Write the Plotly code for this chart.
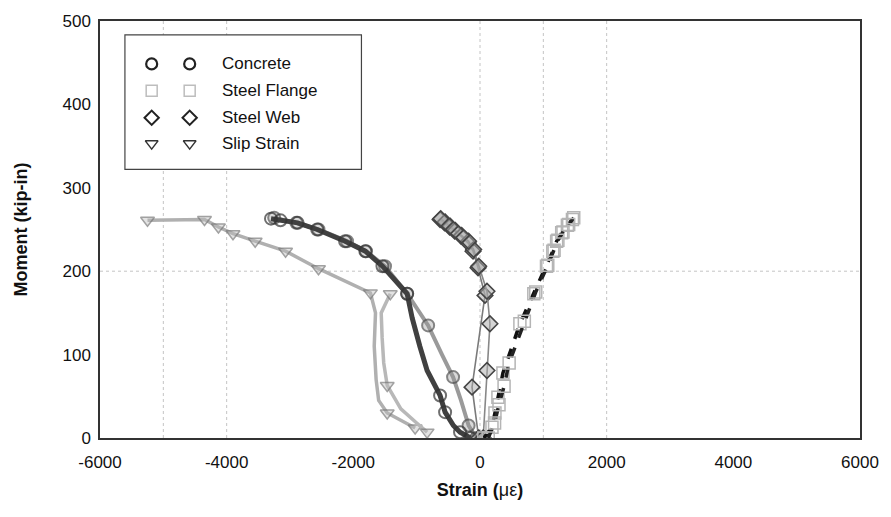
import plotly.graph_objects as go

# Moment vs. strain readings (strain in micro-strain, moment in kip-in)
concrete_a_x = [-3300, -3150, -2880, -2570, -2130, -1810, -1540, -1150, -1071, -950, -835, -630, -551, -420, -315, -150]
concrete_a_y = [263, 261, 258, 250, 236, 224, 206, 173, 144, 110, 81, 51, 31, 15, 7, 0]
concrete_a_mark = [1, 1, 1, 1, 1, 1, 1, 1, 0, 0, 0, 1, 1, 0, 1, 1]
concrete_b_x = [-3250, -2900, -2550, -2100, -1800, -1500, -1150, -819, -600, -425, -300, -180, -60]
concrete_b_y = [264, 258, 250, 236, 224, 206, 173, 135, 100, 73, 45, 15, 0]
concrete_b_mark = [1, 1, 1, 1, 1, 1, 1, 1, 0, 1, 0, 1, 1]

flange_a_x = [60, 189, 236, 283, 362, 630, 850, 1050, 1150, 1210, 1290, 1380, 1460]
flange_a_y = [0, 13, 30, 49, 78, 137, 173, 206, 224, 236, 246, 255, 262]
flange_b_x = [130, 230, 300, 380, 460, 700, 880, 1070, 1170, 1230, 1310, 1400, 1480]
flange_b_y = [0, 18, 40, 62, 90, 140, 175, 207, 225, 237, 247, 256, 264]

web_a_x = [-20, -126, 79, -31, -110, -189, -300, -400, -480, -560, -630]
web_a_y = [0, 61, 171, 204, 224, 234, 242, 248, 253, 258, 262]
web_b_x = [50, 110, 157, 110, -20, -100, -180, -290, -390, -470, -550, -620]
web_b_y = [0, 81, 137, 176, 206, 226, 236, 243, 249, 254, 259, 263]

slip_a_x = [-5250, -4350, -4130, -3900, -3550, -3070, -2550, -1730, -1650, -1670, -1640, -1600, -1465, -1024]
slip_a_y = [261, 262, 253, 245, 236, 224, 203, 174, 150, 110, 70, 45, 30, 12]
slip_a_mark = [1, 1, 1, 1, 1, 1, 1, 1, 0, 0, 0, 0, 1, 1]
slip_b_x = [-1417, -1560, -1545, -1520, -1465, -1250, -1000, -835]
slip_b_y = [173, 150, 120, 90, 63, 35, 18, 7]
slip_b_mark = [1, 0, 0, 0, 1, 0, 0, 1]

x_ticks = [-6000, -4000, -2000, 0, 2000, 4000, 6000]
y_ticks = [0, 100, 200, 300, 400, 500]
grid_x = [-5000, -4000, 0, 1000, 2000]
grid_y = [200]

legend_names = ["Concrete", "Steel Flange", "Steel Web", "Slip Strain"]

FONT = "Liberation Sans, Arial, sans-serif"
MSIZE = 12

fig = go.Figure()

def add_series(x, y, line_color, line_width, dash, symbol, mline, mwidth, fill, marked=None):
    sizes = MSIZE if marked is None else [MSIZE if m else 0 for m in marked]
    fig.add_trace(go.Scatter(
        x=x, y=y, mode="lines+markers", showlegend=False,
        line=dict(color=line_color, width=line_width, dash=dash),
        marker=dict(symbol=symbol, size=sizes, color=fill,
                    line=dict(color=mline, width=mwidth)),
    ))

# Slip strain gauges
add_series(slip_a_x, slip_a_y, "#b0b0b0", 3.5, "solid", "triangle-down", "#7a7a7a", 1.5, "rgba(190,190,190,0.6)", slip_a_mark)
add_series(slip_b_x, slip_b_y, "#b8b8b8", 3.5, "solid", "triangle-down", "#7a7a7a", 1.5, "rgba(190,190,190,0.6)", slip_b_mark)
# Concrete gauges
add_series(concrete_b_x, concrete_b_y, "#9a9a9a", 4, "solid", "circle", "#505050", 2, "rgba(150,150,150,0.5)", concrete_b_mark)
add_series(concrete_a_x, concrete_a_y, "#404040", 5, "solid", "circle", "#333333", 2, "rgba(0,0,0,0)", concrete_a_mark)
# Steel web gauges
add_series(web_a_x, web_a_y, "#7a7a7a", 1.6, "solid", "diamond", "#444444", 1.6, "rgba(170,170,170,0.5)")
add_series(web_b_x, web_b_y, "#888888", 1.6, "solid", "diamond", "#444444", 1.6, "rgba(170,170,170,0.5)")
# Steel flange gauges
add_series(flange_a_x, flange_a_y, "#111111", 3.5, "dash", "square", "#b5b5b5", 1.5, "rgba(0,0,0,0)")
add_series(flange_b_x, flange_b_y, "#222222", 3.5, "dash", "square", "#b5b5b5", 1.5, "rgba(0,0,0,0)")

# Legend drawn on an overlay axis in 0..1 space
legend_rows_y = [0.897, 0.833, 0.768, 0.706]
legend_styles = [
    dict(symbol="circle-open", color="#222222", size=11, line=dict(width=2.2, color="#222222")),
    dict(symbol="square-open", color="#bdbdbd", size=11, line=dict(width=1.5, color="#bdbdbd")),
    dict(symbol="diamond-open", color="#222222", size=11, line=dict(width=2, color="#222222")),
    dict(symbol="triangle-down-open", color="#333333", size=11, line=dict(width=1.5, color="#333333")),
]
for ry, st in zip(legend_rows_y, legend_styles):
    fig.add_trace(go.Scatter(
        x=[0.068, 0.118], y=[ry, ry], mode="markers", showlegend=False,
        marker=st, xaxis="x2", yaxis="y2", hoverinfo="skip",
    ))

annotations = []
for ry, name in zip(legend_rows_y, legend_names):
    annotations.append(dict(
        x=0.158, y=ry, xref="paper", yref="paper", text=name, showarrow=False,
        xanchor="left", yanchor="middle", font=dict(family=FONT, size=17, color="#111111"),
    ))

shapes = []
for gx in grid_x:
    shapes.append(dict(type="line", xref="x", yref="paper", x0=gx, x1=gx, y0=0, y1=1,
                       line=dict(color="#c4c4c4", width=1, dash="dot"), layer="below"))
for gy in grid_y:
    shapes.append(dict(type="line", xref="paper", yref="y", x0=0, x1=1, y0=gy, y1=gy,
                       line=dict(color="#c4c4c4", width=1, dash="dot"), layer="below"))
shapes.append(dict(type="rect", xref="paper", yref="paper", x0=0.0328, x1=0.344, y0=0.644, y1=0.9666,
                   line=dict(color="#444444", width=1.2), fillcolor="white", layer="below"))

fig.update_layout(
    width=891, height=517,
    margin=dict(l=100, r=29, t=19, b=79),
    paper_bgcolor="white", plot_bgcolor="white",
    font=dict(family=FONT, size=17, color="#111111"),
    xaxis=dict(
        range=[-6000, 6000], tickvals=x_ticks, ticktext=[str(v) for v in x_ticks],
        showgrid=False, zeroline=False, showline=True, mirror=True,
        linecolor="#333333", linewidth=1.5, ticks="", ticklabelstandoff=8,
        title=dict(text="<b>Strain (</b>με<b>)</b>", font=dict(family=FONT, size=18), standoff=12),
    ),
    yaxis=dict(
        range=[0, 500], tickvals=y_ticks, showgrid=False, zeroline=False,
        showline=True, mirror=True, linecolor="#333333", linewidth=1.5, ticks="",
        ticklabelstandoff=4,
        title=dict(text="<b>Moment (kip-in)</b>", font=dict(family=FONT, size=18), standoff=30),
    ),
    xaxis2=dict(overlaying="x", range=[0, 1], visible=False, domain=[0, 1]),
    yaxis2=dict(overlaying="y", range=[0, 1], visible=False, domain=[0, 1]),
    shapes=shapes,
    annotations=annotations,
    showlegend=False,
)

fig.write_html("out.html")
